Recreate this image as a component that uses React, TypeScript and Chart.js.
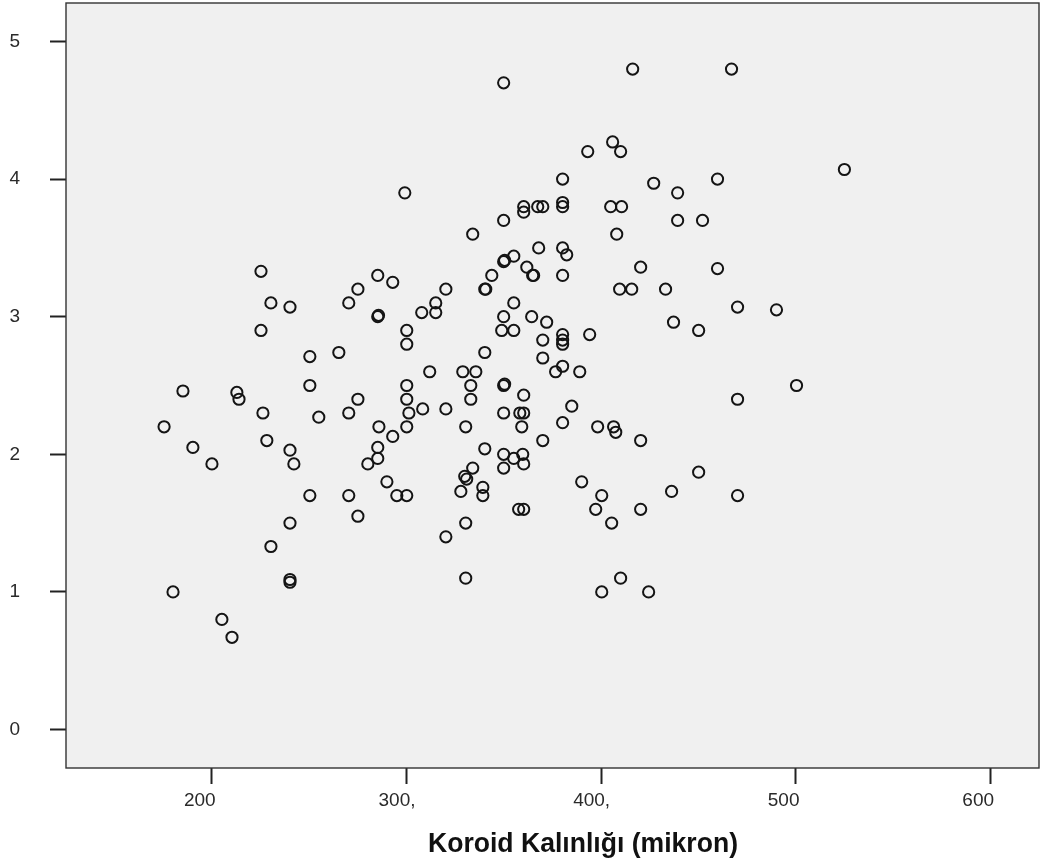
import React, { useEffect, useRef } from "react";
import { Chart, registerables } from "chart.js";

Chart.register(...registerables);

// Koroid kalınlığı (mikron)
const thickness: number[] = [
  175.4, 180.0, 185.1, 190.2, 200.0, 205.1, 210.3, 212.8, 213.9, 225.2,
  225.2, 226.2, 228.2, 230.3, 230.3, 240.1, 240.1, 242.1, 240.1, 240.1,
  240.1, 250.3, 250.3, 250.3, 254.9, 265.2, 270.3, 270.3, 270.3, 275.0,
  275.0, 275.0, 285.2, 285.2, 285.6, 285.8, 285.2, 285.2, 280.1, 289.9,
  292.9, 292.9, 295.0, 299.1, 300.1, 300.1, 300.1, 300.1, 301.2, 300.1,
  300.1, 307.8, 315.0, 315.0, 308.3, 311.9, 320.2, 320.2, 320.2, 328.9,
  335.6, 333.0, 333.0, 330.4, 329.9, 330.9, 327.9, 330.4, 330.4, 334.0,
  334.0, 339.2, 339.2, 340.2, 340.7, 340.2, 340.2, 343.8, 349.9, 349.9,
  349.9, 350.4, 355.1, 361.8, 364.8, 365.3, 355.1, 349.9, 364.3, 372.0,
  348.9, 355.1, 370.0, 370.0, 349.9, 350.4, 360.2, 349.9, 358.2, 360.2,
  359.2, 349.9, 355.1, 359.7, 349.9, 360.2, 357.6, 360.2, 360.2, 360.2,
  367.4, 370.0, 367.9, 370.0, 376.6, 380.2, 389.0, 384.9, 380.2, 380.2,
  380.2, 380.2, 380.2, 382.3, 380.2, 380.2, 380.2, 380.2, 394.1, 393.1,
  405.9, 410.0, 404.9, 410.5, 408.0, 409.5, 415.7, 420.3, 416.2, 398.2,
  406.4, 407.5, 420.3, 390.0, 400.3, 397.2, 405.4, 420.3, 400.3, 410.0,
  427.0, 439.3, 459.8, 439.3, 452.1, 459.8, 433.1, 470.1, 490.1, 437.2,
  450.1, 467.0, 525.0, 500.4, 470.1, 450.1, 436.2, 470.1, 424.4,
];

const scores: number[] = [
  2.20, 1.00, 2.46, 2.05, 1.93, 0.80, 0.67, 2.45, 2.40, 3.33,
  2.90, 2.30, 2.10, 3.10, 1.33, 3.07, 2.03, 1.93, 1.50, 1.09,
  1.07, 2.71, 2.50, 1.70, 2.27, 2.74, 3.10, 2.30, 1.70, 3.20,
  2.40, 1.55, 3.30, 3.00, 3.01, 2.20, 2.05, 1.97, 1.93, 1.80,
  3.25, 2.13, 1.70, 3.90, 2.90, 2.80, 2.50, 2.40, 2.30, 2.20,
  1.70, 3.03, 3.10, 3.03, 2.33, 2.60, 3.20, 2.33, 1.40, 2.60,
  2.60, 2.50, 2.40, 2.20, 1.84, 1.82, 1.73, 1.50, 1.10, 3.60,
  1.90, 1.76, 1.70, 3.20, 3.20, 2.74, 2.04, 3.30, 4.70, 3.70,
  3.40, 3.41, 3.44, 3.36, 3.30, 3.30, 3.10, 3.00, 3.00, 2.96,
  2.90, 2.90, 2.83, 2.70, 2.50, 2.51, 2.43, 2.30, 2.30, 2.30,
  2.20, 2.00, 1.97, 2.00, 1.90, 1.93, 1.60, 1.60, 3.80, 3.76,
  3.80, 3.80, 3.50, 2.10, 2.60, 2.64, 2.60, 2.35, 2.23, 4.00,
  3.83, 3.80, 3.50, 3.45, 3.30, 2.87, 2.83, 2.80, 2.87, 4.20,
  4.27, 4.20, 3.80, 3.80, 3.60, 3.20, 3.20, 3.36, 4.80, 2.20,
  2.20, 2.16, 2.10, 1.80, 1.70, 1.60, 1.50, 1.60, 1.00, 1.10,
  3.97, 3.90, 4.00, 3.70, 3.70, 3.35, 3.20, 3.07, 3.05, 2.96,
  2.90, 4.80, 4.07, 2.50, 2.40, 1.87, 1.73, 1.70, 1.00,
];

const xTickValues: number[] = [200, 300, 400, 500, 600];
const xTickLabels: string[] = ["200", "300,", "400,", "500", "600"];
const yTickValues: number[] = [0, 1, 2, 3, 4, 5];
const yTickLabels: string[] = ["0", "1", "2", "3", "4", "5"];
const xTitle = "Koroid Kalınlığı (mikron)";

const FONT = "'Liberation Sans', Arial, Helvetica, sans-serif";

const plotFrame = {
  id: "plotFrame",
  beforeDraw(chart: any) {
    const { ctx, chartArea } = chart;
    ctx.save();
    ctx.fillStyle = "#f0f0f0";
    ctx.fillRect(chartArea.left, chartArea.top, chartArea.right - chartArea.left, chartArea.bottom - chartArea.top);
    ctx.restore();
  },
  afterDraw(chart: any) {
    const { ctx, chartArea } = chart;
    ctx.save();
    ctx.strokeStyle = "#333";
    ctx.lineWidth = 1.4;
    ctx.strokeRect(chartArea.left, chartArea.top, chartArea.right - chartArea.left, chartArea.bottom - chartArea.top);
    // axis title
    ctx.fillStyle = "#111";
    ctx.font = `bold 27px ${FONT}`;
    ctx.textAlign = "center";
    ctx.textBaseline = "alphabetic";
    const w = ctx.measureText(xTitle).width;
    const target = 310;
    const sx = target / w;
    const cx = 583;
    ctx.translate(cx, 852);
    ctx.scale(sx, 1);
    ctx.fillText(xTitle, 0, 0);
    ctx.restore();
  },
};

export default function App() {
  const ref = useRef<HTMLCanvasElement | null>(null);
  useEffect(() => {
    document.body.style.margin = "0";
    if (!ref.current) return;
    const points = thickness.map((x, i) => ({ x, y: scores[i] }));
    const chart = new Chart(ref.current, {
      type: "scatter",
      data: {
        datasets: [
          {
            data: points,
            pointStyle: "circle",
            pointRadius: 5.6,
            pointBorderWidth: 2,
            borderColor: "#141414",
            backgroundColor: "rgba(0,0,0,0)",
          },
        ],
      },
      options: {
        responsive: false,
        animation: false,
        layout: { autoPadding: false, padding: { top: 3, right: 2, left: 0, bottom: 0 } },
        plugins: { legend: { display: false }, tooltip: { enabled: false } },
        scales: {
          x: {
            type: "linear",
            min: 125,
            max: 625,
            afterBuildTicks: (s: any) => {
              s.ticks = xTickValues.map((v) => ({ value: v }));
            },
            afterFit: (s: any) => {
              s.height = 98;
              s.paddingLeft = 0;
              s.paddingRight = 0;
              s.paddingTop = 0;
              s.paddingBottom = 0;
            },
            ticks: {
              autoSkip: false,
              maxRotation: 0,
              align: "start",
              labelOffset: -28,
              padding: 5,
              color: "#2a2a2a",
              font: { family: FONT, size: 19 },
              callback: (v: any) => xTickLabels[xTickValues.indexOf(Number(v))] ?? "",
            },
            grid: { drawOnChartArea: false, drawTicks: true, tickLength: 16, tickWidth: 2, tickColor: "#222" },
            border: { display: false },
          },
          y: {
            type: "linear",
            min: -0.28,
            max: 5.28,
            afterBuildTicks: (s: any) => {
              s.ticks = yTickValues.map((v) => ({ value: v }));
            },
            afterFit: (s: any) => {
              s.width = 66;
              s.paddingLeft = 0;
              s.paddingRight = 0;
              s.paddingTop = 0;
              s.paddingBottom = 0;
            },
            ticks: {
              autoSkip: false,
              padding: 30,
              color: "#2a2a2a",
              font: { family: FONT, size: 19 },
              callback: (v: any) => yTickLabels[yTickValues.indexOf(Number(v))] ?? "",
            },
            grid: { drawOnChartArea: false, drawTicks: true, tickLength: 16, tickWidth: 2, tickColor: "#222" },
            border: { display: false },
          },
        },
      },
      plugins: [plotFrame],
    });
    return () => chart.destroy();
  }, []);
  return (
    <div style={{ width: 1041, height: 866, background: "#fff" }}>
      <canvas ref={ref} width={1041} height={866} style={{ display: "block" }} />
    </div>
  );
}
